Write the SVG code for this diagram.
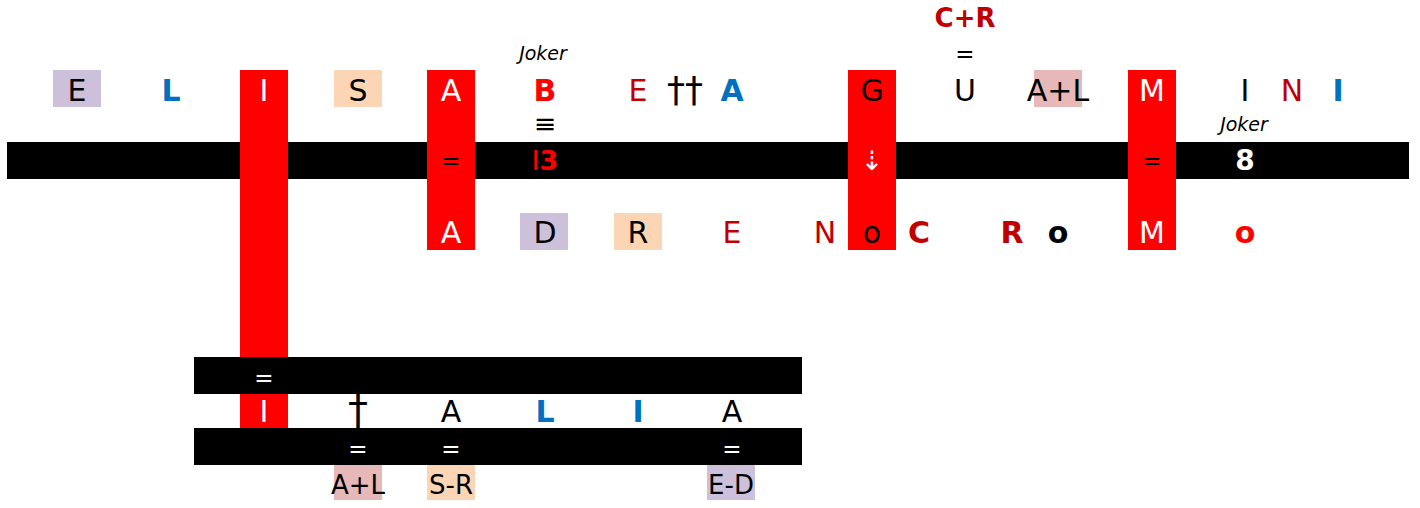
<svg xmlns="http://www.w3.org/2000/svg" width="1420" height="508" viewBox="0 0 1420 508">
<style>
text{font-family:"DejaVu Sans","Liberation Sans",sans-serif;text-anchor:middle;}
.t{font-size:30px;}
.b{font-weight:bold;}
.s{font-size:26px;}
.eq{font-size:23px;}
.j{font-size:19px;font-style:italic;}
.dr{fill:#C00000;}
.rd{fill:#FF0000;}
.bl{fill:#0070C0;}
.wh{fill:#FFFFFF;}
.bk{fill:#000000;}
.pu{fill:#CCC0DA;}
.pe{fill:#FCD5B4;}
.pk{fill:#E6B8B7;}
.red{fill:#FF0000;}
</style>
<rect width="1420" height="508" fill="#FFFFFF"/>
<g id="connectors">
<rect x="7" y="142" width="1402" height="37" class="bk"/>
<rect x="240" y="70" width="48" height="287" class="red"/>
<rect x="427" y="70" width="48" height="180" class="red"/>
<rect x="848" y="70" width="48" height="180" class="red"/>
<rect x="1128" y="70" width="48" height="180" class="red"/>
<rect x="194" y="357" width="608" height="37" class="bk"/>
<rect x="240" y="394" width="48" height="34" class="red"/>
<rect x="194" y="428" width="608" height="37" class="bk"/>
</g>
<g id="top-row">
<rect x="53" y="70" width="48" height="37" class="pu"/>
<text x="77" y="101" class="t bk">E</text>
<text x="171" y="101" class="t b bl">L</text>
<text x="264" y="101" class="t wh">I</text>
<rect x="334" y="70" width="48" height="37" class="pe"/>
<text x="358" y="101" class="t bk">S</text>
<text x="451" y="101" class="t wh">A</text>
<text x="543" y="60" class="j bk">Joker</text>
<text x="545" y="101" class="t b rd">B</text>
<text x="545" y="133" class="bk" style="font-size:27px">≡</text>
<text x="638" y="101" class="t dr">E</text>
<text x="685" y="102" class="bk" style="font-size:36px">††</text>
<text x="732" y="101" class="t b bl">A</text>
<text x="872" y="101" class="t bk">G</text>
<text x="965" y="27" class="s b dr">C+R</text>
<text x="965" y="62" class="eq bk">=</text>
<text x="965" y="101" class="t bk">U</text>
<rect x="1034" y="70" width="48" height="37" class="pk"/>
<text x="1058" y="101" class="t bk">A+L</text>
<text x="1152" y="101" class="t wh">M</text>
<text x="1245" y="101" class="t bk">I</text>
<text x="1292" y="101" class="t dr">N</text>
<text x="1338" y="101" class="t b bl">I</text>
<text x="1244" y="131" class="j bk">Joker</text>
</g>
<g id="bar-row">
<text x="451" y="169" class="eq bk">=</text>
<text x="545" y="170" class="rd" style="font-size:27px">I<tspan class="b">3</tspan></text>
<text x="872" y="170" class="wh" style="font-size:27px">⇣</text>
<text x="1152" y="169" class="eq bk">=</text>
<text x="1245" y="170" class="b wh" style="font-size:28px">8</text>
</g>
<g id="mid-row">
<text x="451" y="243" class="t wh">A</text>
<rect x="520" y="213" width="48" height="37" class="pu"/>
<text x="545" y="243" class="t bk">D</text>
<rect x="614" y="213" width="48" height="37" class="pe"/>
<text x="638" y="243" class="t bk">R</text>
<text x="732" y="243" class="t dr">E</text>
<text x="825" y="243" class="t dr">N</text>
<text x="872" y="243" class="t bk">o</text>
<text x="919" y="243" class="t b dr">C</text>
<text x="1012" y="243" class="t b dr">R</text>
<text x="1058" y="243" class="t b bk">o</text>
<text x="1152" y="243" class="t wh">M</text>
<text x="1245" y="243" class="t b rd">o</text>
</g>
<g id="bottom-rows">
<text x="264" y="386" class="eq wh">=</text>
<text x="264" y="422" class="t wh">I</text>
<text x="358" y="424" class="bk" style="font-size:40px">†</text>
<text x="451" y="422" class="t bk">A</text>
<text x="545" y="422" class="t b bl">L</text>
<text x="638" y="422" class="t b bl">I</text>
<text x="732" y="422" class="t bk">A</text>
<text x="358" y="457" class="eq wh">=</text>
<text x="451" y="457" class="eq wh">=</text>
<text x="732" y="457" class="eq wh">=</text>
<rect x="334" y="465" width="48" height="35" class="pk"/>
<text x="358" y="494" class="s bk">A+L</text>
<rect x="427" y="465" width="48" height="35" class="pe"/>
<text x="451" y="494" class="s bk">S-R</text>
<rect x="707" y="465" width="48" height="35" class="pu"/>
<text x="731" y="494" class="s bk">E-D</text>
</g>
</svg>
